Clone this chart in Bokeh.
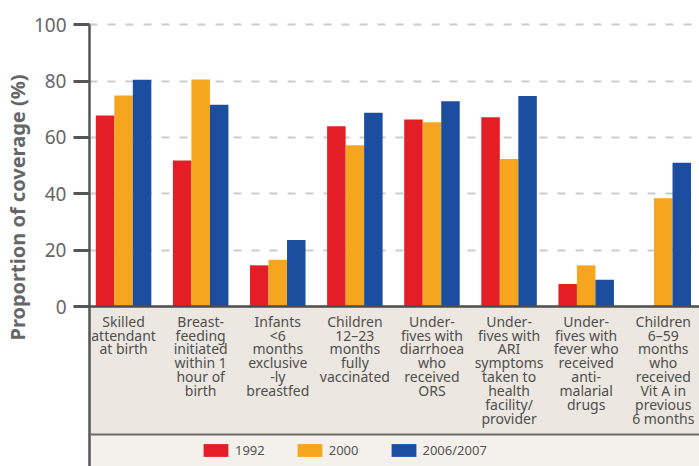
from bokeh.plotting import figure
from bokeh.models import (Range1d, FixedTicker, Span, BoxAnnotation, Legend,
                          LegendItem, ColumnDataSource, Title)
from bokeh.transform import dodge
from bokeh.core.properties import value
from bokeh.embed import file_html
from bokeh.resources import INLINE

# ---------------- data ----------------
categories = [
    "Skilled\nattendant\nat birth",
    "Breast-\nfeeding\ninitiated\nwithin 1\nhour of\nbirth",
    "Infants\n<6\nmonths\nexclusive\n-ly\nbreastfed",
    "Children\n12\u201323\nmonths\nfully\nvaccinated",
    "Under-\nfives with\ndiarrhoea\nwho\nreceived\nORS",
    "Under-\nfives with\nARI\nsymptoms\ntaken to\nhealth\nfacility/\nprovider",
    "Under-\nfives with\nfever who\nreceived\nanti-\nmalarial\ndrugs",
    "Children\n6\u201359\nmonths\nwho\nreceived\nVit A in\nprevious\n6 months",
]
years = ["1992", "2000", "2006/2007"]
v1992 = [67.8, 51.8, 14.6, 64.0, 66.4, 67.2, 8.0, float("nan")]
v2000 = [74.9, 80.6, 16.6, 57.2, 65.4, 52.4, 14.6, 38.4]
v2006 = [80.5, 71.6, 23.6, 68.8, 72.9, 74.7, 9.5, 51.0]
y_ticks = [0, 20, 40, 60, 80, 100]
y_title = "Proportion of coverage (%)"

colors = ["#e41e26", "#f6a51f", "#1b4e9f"]
FONT = "Noto Sans"

src = ColumnDataSource(dict(
    x=list(range(len(categories))),
    label=categories,
    y1992=v1992, y2000=v2000, y2006=v2006,
))

Y0, Y1 = -56.8, 108.63
X0, X1 = -0.442, 7.47
p = figure(width=699, height=466, title=None,
           x_range=Range1d(X0, X1), y_range=Range1d(Y0, Y1),
           x_axis_location=None,
           output_backend="svg", toolbar_location=None,
           min_border_left=89, min_border_right=0,
           min_border_top=0, min_border_bottom=0)
p.outline_line_color = None
p.background_fill_color = "white"
p.border_fill_color = "white"

# label / legend panels
p.add_layout(BoxAnnotation(top=0, bottom=-45.4, fill_color="#ece7e0", fill_alpha=1,
                           line_color=None, level="underlay"))
p.add_layout(BoxAnnotation(top=-45.4, fill_color="#f4f1ed", fill_alpha=1,
                           line_color=None, level="underlay"))

# grid
p.xgrid.visible = False
p.ygrid.ticker = FixedTicker(ticks=y_ticks[1:])
p.ygrid.grid_line_color = "#cccccc"
p.ygrid.grid_line_width = 2
p.ygrid.grid_line_dash = "8 10"

# bars
w = 0.24
r1 = p.vbar(x=dodge("x", -w), top="y1992", width=w, source=src,
            fill_color=colors[0], line_color=None)
r2 = p.vbar(x="x", top="y2000", width=w, source=src,
            fill_color=colors[1], line_color=None)
r3 = p.vbar(x=dodge("x", w), top="y2006", width=w, source=src,
            fill_color=colors[2], line_color=None)

# x axis line and divider
p.add_layout(Span(location=0, dimension="width", line_color="#4d4d4d", line_width=2.5))
p.add_layout(Span(location=-45.4, dimension="width", line_color="#6a6a6a", line_width=2))

# category labels
p.text(x="x", y=-1.8, text="label", source=src,
       text_align="center", text_baseline="top",
       text_font=value(FONT), text_font_size="14px", text_color="#4f4f4f",
       text_line_height=0.734)

# y axis
ax = p.yaxis[0]
ax.ticker = FixedTicker(ticks=y_ticks)
ax.bounds = (Y0, 100)
ax.axis_line_color = "#555555"
ax.axis_line_width = 2.5
ax.major_tick_line_color = "#555555"
ax.major_tick_line_width = 3
ax.major_tick_out = 16
ax.major_tick_in = 0
ax.minor_tick_line_color = None
ax.major_label_standoff = 7
ax.major_label_text_font = FONT
ax.major_label_text_font_size = "19px"
ax.major_label_text_color = "#666666"

# y axis title as a side title (vertical, reading upwards)
p.add_layout(Title(text=y_title, align="left", offset=126, standoff=0,
                   text_font=FONT, text_font_style="bold",
                   text_font_size="20px", text_color="#666666"), "left")

# legend
legend = Legend(items=[LegendItem(label=years[0], renderers=[r1]),
                       LegendItem(label=years[1], renderers=[r2]),
                       LegendItem(label=years[2], renderers=[r3])],
                orientation="horizontal", location=(111, 7.5),
                glyph_width=31, glyph_height=16, label_height=16,
                label_standoff=4, spacing=29, padding=0, margin=0,
                border_line_color=None, background_fill_alpha=0,
                label_text_font=FONT, label_text_font_size="13px",
                label_text_color="#555555")
p.add_layout(legend, "center")

open("out.html", "w").write(file_html(p, INLINE))
